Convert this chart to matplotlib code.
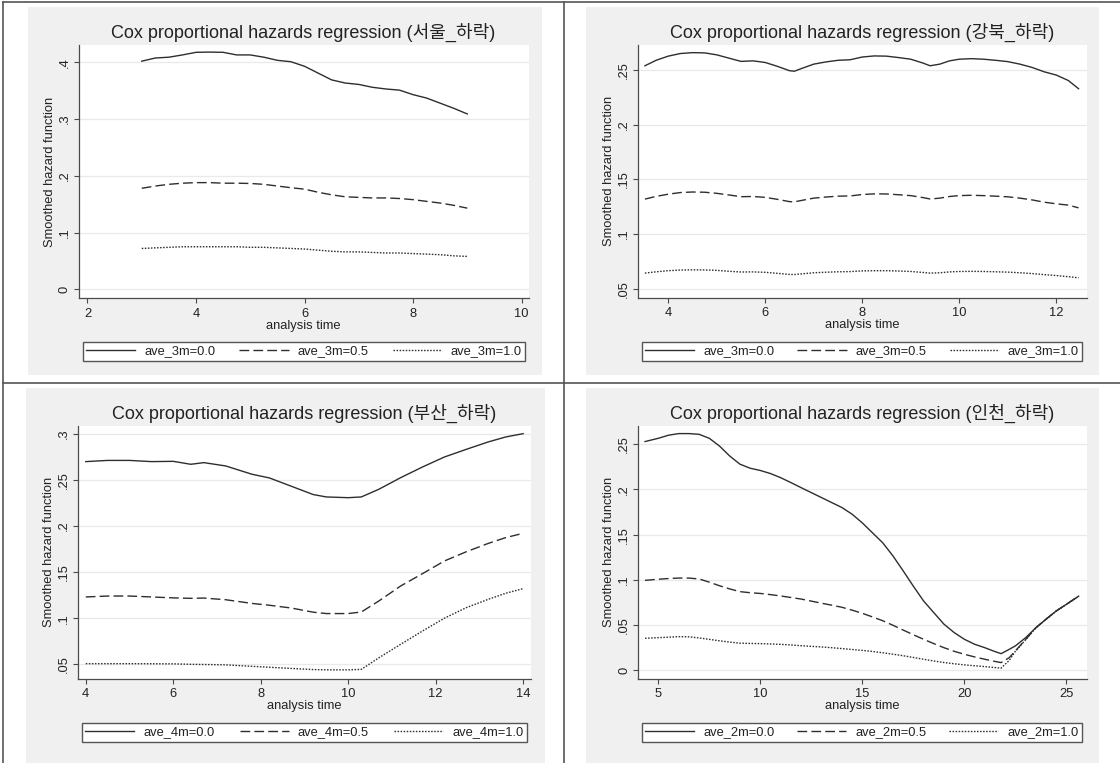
import matplotlib
matplotlib.use("Agg")
import matplotlib.pyplot as plt
from matplotlib.lines import Line2D
from matplotlib.patches import Rectangle

plt.rcParams['font.family'] = ['Liberation Sans', 'Noto Sans CJK KR']

# ---- data ----
regions = ["서울_하락", "강북_하락", "부산_하락", "인천_하락"]
group_vars = ["ave_3m", "ave_3m", "ave_4m", "ave_2m"]
levels = ["0.0", "0.5", "1.0"]

# 서울
t_seoul = [3.0, 3.25, 3.5, 3.75, 4.0, 4.25, 4.5, 4.75, 5.0, 5.25, 5.5, 5.75, 6.0,
           6.25, 6.5, 6.75, 7.0, 7.25, 7.5, 7.75, 8.0, 8.25, 8.5, 8.75, 9.0]
seoul_00 = [0.402, 0.4076, 0.409, 0.413, 0.4176, 0.418, 0.4176, 0.413, 0.413, 0.409,
            0.4035, 0.401, 0.393, 0.381, 0.369, 0.3635, 0.361, 0.356, 0.353, 0.351,
            0.343, 0.337, 0.328, 0.319, 0.309]
seoul_05 = [0.178, 0.182, 0.185, 0.187, 0.188, 0.188, 0.187, 0.187, 0.1865, 0.185,
            0.182, 0.179, 0.1765, 0.171, 0.1665, 0.163, 0.162, 0.161, 0.161, 0.160,
            0.158, 0.155, 0.152, 0.148, 0.143]
seoul_10 = [0.072, 0.073, 0.074, 0.075, 0.075, 0.075, 0.075, 0.075, 0.074, 0.074,
            0.073, 0.072, 0.071, 0.069, 0.067, 0.066, 0.066, 0.065, 0.064, 0.064,
            0.063, 0.062, 0.061, 0.059, 0.058]

# 강북
t_gangbuk = [3.52, 3.75, 4.0, 4.25, 4.5, 4.75, 5.0, 5.25, 5.5, 5.75, 6.0, 6.25, 6.5,
             6.6, 6.75, 7.0, 7.25, 7.5, 7.75, 8.0, 8.25, 8.5, 8.75, 9.0, 9.25, 9.4,
             9.6, 9.8, 10.0, 10.25, 10.5, 10.75, 11.0, 11.25, 11.5, 11.75, 12.0,
             12.25, 12.46]
gangbuk_00 = [0.254, 0.259, 0.2628, 0.2652, 0.266, 0.2658, 0.264, 0.261, 0.258,
              0.2585, 0.257, 0.2535, 0.2495, 0.249, 0.2515, 0.2555, 0.2575, 0.259,
              0.2595, 0.262, 0.263, 0.2628, 0.2615, 0.260, 0.2565, 0.254, 0.2555,
              0.2585, 0.260, 0.2605, 0.260, 0.259, 0.2578, 0.2555, 0.2525, 0.2485,
              0.2455, 0.2405, 0.233]
gangbuk_05 = [0.132, 0.1345, 0.1365, 0.138, 0.1385, 0.1383, 0.1373, 0.1358, 0.1342,
              0.1344, 0.1336, 0.1318, 0.1297, 0.1295, 0.1308, 0.1329, 0.1339, 0.1347,
              0.1349, 0.1362, 0.1368, 0.1367, 0.136, 0.1352, 0.1334, 0.1321, 0.1329,
              0.1344, 0.1352, 0.1355, 0.1352, 0.1347, 0.1341, 0.1329, 0.1313, 0.1292,
              0.1277, 0.1265, 0.124]
gangbuk_10 = [0.0643, 0.0655, 0.0665, 0.0671, 0.0673, 0.0672, 0.0668, 0.066, 0.0653,
              0.0654, 0.065, 0.0641, 0.0631, 0.063, 0.0636, 0.0646, 0.0651, 0.0655,
              0.0657, 0.0663, 0.0665, 0.0665, 0.0662, 0.0658, 0.0649, 0.0643, 0.0646,
              0.0654, 0.0658, 0.0659, 0.0658, 0.0655, 0.0652, 0.0646, 0.0639, 0.0629,
              0.0621, 0.061, 0.060]

# 부산
t_busan = [4.0, 4.5, 5.0, 5.5, 6.0, 6.4, 6.7, 7.2, 7.8, 8.2, 8.7, 9.2, 9.5, 10.0,
           10.3, 10.7, 11.2, 11.7, 12.2, 12.7, 13.2, 13.6, 14.0]
busan_00 = [0.2697, 0.271, 0.271, 0.2697, 0.270, 0.2668, 0.2686, 0.265, 0.256, 0.252,
            0.243, 0.234, 0.2314, 0.2306, 0.2314, 0.2397, 0.2523, 0.2639, 0.2747,
            0.283, 0.291, 0.2964, 0.300]
busan_05 = [0.123, 0.124, 0.124, 0.123, 0.122, 0.1215, 0.1218, 0.120, 0.116, 0.114,
            0.111, 0.1065, 0.105, 0.105, 0.1067, 0.1186, 0.1349, 0.1483, 0.162,
            0.172, 0.181, 0.1873, 0.192]
busan_10 = [0.0507, 0.0507, 0.0507, 0.0506, 0.0505, 0.050, 0.0498, 0.0494, 0.0478,
            0.0468, 0.0455, 0.0443, 0.044, 0.044, 0.0445, 0.057, 0.0717, 0.0861,
            0.100, 0.1114, 0.1204, 0.127, 0.132]

# 인천
t_incheon = [4.35, 5.0, 5.5, 6.0, 6.5, 7.0, 7.5, 8.0, 8.5, 9.0, 9.5, 10.0, 10.5, 11.0,
             11.5, 12.0, 12.5, 13.0, 13.5, 14.0, 14.5, 15.0, 15.5, 16.0, 16.5, 17.0,
             17.5, 18.0, 18.5, 19.0, 19.5, 20.0, 20.5, 21.0, 21.5, 21.8, 22.2, 22.5,
             23.0, 23.5, 24.0, 24.5, 25.0, 25.6]
incheon_00 = [0.253, 0.2566, 0.260, 0.2618, 0.2618, 0.261, 0.2566, 0.248, 0.237,
              0.228, 0.2235, 0.221, 0.2176, 0.213, 0.2076, 0.202, 0.1965, 0.191,
              0.1855, 0.180, 0.1726, 0.163, 0.152, 0.141, 0.1265, 0.110, 0.093,
              0.0767, 0.0638, 0.051, 0.0417, 0.0343, 0.0288, 0.025, 0.0207, 0.0184,
              0.0232, 0.027, 0.036, 0.047, 0.0565, 0.0656, 0.073, 0.082]
incheon_05 = [0.0995, 0.1007, 0.1015, 0.102, 0.102, 0.101, 0.0975, 0.0935, 0.090,
              0.087, 0.0858, 0.085, 0.0837, 0.0822, 0.0805, 0.0788, 0.0765, 0.0742,
              0.072, 0.0697, 0.0665, 0.063, 0.059, 0.0548, 0.0498, 0.0445, 0.0393,
              0.0343, 0.0295, 0.025, 0.021, 0.0177, 0.0148, 0.0122, 0.0098, 0.0085,
              0.014, 0.0214, 0.034, 0.047, 0.0565, 0.0656, 0.073, 0.082]
incheon_10 = [0.0354, 0.0361, 0.0366, 0.0372, 0.037, 0.0358, 0.0342, 0.0326, 0.0312,
              0.030, 0.0297, 0.0295, 0.0291, 0.0287, 0.028, 0.0272, 0.0265, 0.0258,
              0.025, 0.024, 0.023, 0.022, 0.0208, 0.0194, 0.0178, 0.0161, 0.0142,
              0.0122, 0.0103, 0.0086, 0.0072, 0.006, 0.005, 0.0041, 0.003, 0.0024,
              0.011, 0.021, 0.0338, 0.0468, 0.0563, 0.0654, 0.0728, 0.0818]

times = [t_seoul, t_gangbuk, t_busan, t_incheon]
series = [[seoul_00, seoul_05, seoul_10],
          [gangbuk_00, gangbuk_05, gangbuk_10],
          [busan_00, busan_05, busan_10],
          [incheon_00, incheon_05, incheon_10]]

xticks = [[2, 4, 6, 8, 10], [4, 6, 8, 10, 12], [4, 6, 8, 10, 12, 14], [5, 10, 15, 20, 25]]
yticks = [[0, .1, .2, .3, .4], [.05, .1, .15, .2, .25],
          [.05, .1, .15, .2, .25, .3], [0, .05, .1, .15, .2, .25]]
ytick_labels = [["0", ".1", ".2", ".3", ".4"], [".05", ".1", ".15", ".2", ".25"],
                [".05", ".1", ".15", ".2", ".25", ".3"], ["0", ".05", ".1", ".15", ".2", ".25"]]
xlims = [(1.836, 10.13), (3.375, 12.63), (3.82, 14.18), (4.0, 26.0)]
ylims = [(-0.0153, 0.4305), (0.0418, 0.273), (0.0344, 0.3083), (-0.0093, 0.2702)]

# ---- layout in pixels (left, top, right, bottom) ----
W, H = 1120, 763
plot_box = [(78.6, 45, 528.6, 298), (637.9, 45, 1086.8, 297.7),
            (77.9, 426, 531, 678.7), (637.9, 426, 1086.8, 678.7)]
gray_box = [(27.9, 7, 542, 375), (585.7, 7, 1098.6, 375),
            (25.7, 388, 544.6, 763), (585.7, 388, 1099, 763)]
legend_box = [(83, 340, 525, 363), (642, 340, 1082, 363),
              (82, 721, 527, 744), (642, 721, 1082, 744)]


def frac(box):
    l, t, r, b = box
    return [l / W, 1 - b / H, (r - l) / W, (b - t) / H]


fig = plt.figure(figsize=(11.2, 7.63), dpi=100)
fig.patch.set_facecolor("white")

line_col = "#2e2e2e"
axis_col = "#4a4a4a"
text_col = "#222222"
styles = [dict(linestyle="-"),
          dict(linestyle=(0, (7, 3))),
          dict(linestyle=(0, (1.1, 1.1)))]

# table borders
fig.add_artist(Line2D([2.9 / W, 2.9 / W], [0, 1 - 2 / H], color="#555555", lw=1.2))
fig.add_artist(Line2D([2.9 / W, 1], [1 - 2 / H, 1 - 2 / H], color="#555555", lw=1.2))
fig.add_artist(Line2D([563.5 / W, 563.5 / W], [0, 1 - 2 / H], color="#555555", lw=1.2))
fig.add_artist(Line2D([2.9 / W, 1], [1 - 383 / H, 1 - 383 / H], color="#555555", lw=1.2))

for i in range(4):
    # grey graph region
    l, t, r, b = gray_box[i]
    fig.add_artist(Rectangle((l / W, 1 - b / H), (r - l) / W, (b - t) / H,
                             transform=fig.transFigure, facecolor="#f0f0f0",
                             edgecolor="none", zorder=0))

    ax = fig.add_axes(frac(plot_box[i]))
    ax.set_facecolor("white")
    for k in range(3):
        ax.plot(times[i], series[i][k], color=line_col, lw=1.0, **styles[k],
                label=f"{group_vars[i]}={levels[k]}")

    ax.set_xlim(*xlims[i])
    ax.set_ylim(*ylims[i])
    ax.set_xticks(xticks[i])
    ax.set_xticklabels([str(v) for v in xticks[i]])
    ax.set_yticks(yticks[i])
    ax.set_yticklabels(ytick_labels[i], rotation=90, va="center")
    ax.tick_params(colors=axis_col, labelcolor=text_col, labelsize=9.3, length=3.5,
                   width=0.8, pad=2)
    ax.tick_params(axis="x", pad=3.5)
    ax.grid(axis="y", color="#e9e9e9", lw=0.9)
    ax.set_axisbelow(True)
    for side in ["top", "right"]:
        ax.spines[side].set_visible(False)
    for side in ["left", "bottom"]:
        ax.spines[side].set_color(axis_col)
        ax.spines[side].set_linewidth(0.9)

    ax.set_xlabel("analysis time", fontsize=9.3, color=text_col, labelpad=0)
    ax.set_ylabel("Smoothed hazard function", fontsize=9.3, color=text_col, labelpad=2)

    pl, pt, pr, pb = plot_box[i]
    fig.text(((pl + pr) / 2) / W, 1 - (pt - 13) / H,
             f"Cox proportional hazards regression ({regions[i]})",
             ha="center", va="center", fontsize=13, color=text_col)

    ll, lt, lr, lb = legend_box[i]
    leg = ax.legend(loc="center", ncol=3, mode="expand",
                    bbox_to_anchor=(ll / W, 1 - lb / H, (lr - ll) / W, (lb - lt) / H),
                    bbox_transform=fig.transFigure, fontsize=9.3, frameon=True,
                    fancybox=False, edgecolor="#555555", facecolor="white",
                    framealpha=1, handlelength=3.8, handletextpad=0.7,
                    borderpad=0.25, borderaxespad=0, columnspacing=1.0)
    leg.get_frame().set_linewidth(1.0)
    for txt in leg.get_texts():
        txt.set_color(text_col)

fig.savefig("out.png", dpi=100)
